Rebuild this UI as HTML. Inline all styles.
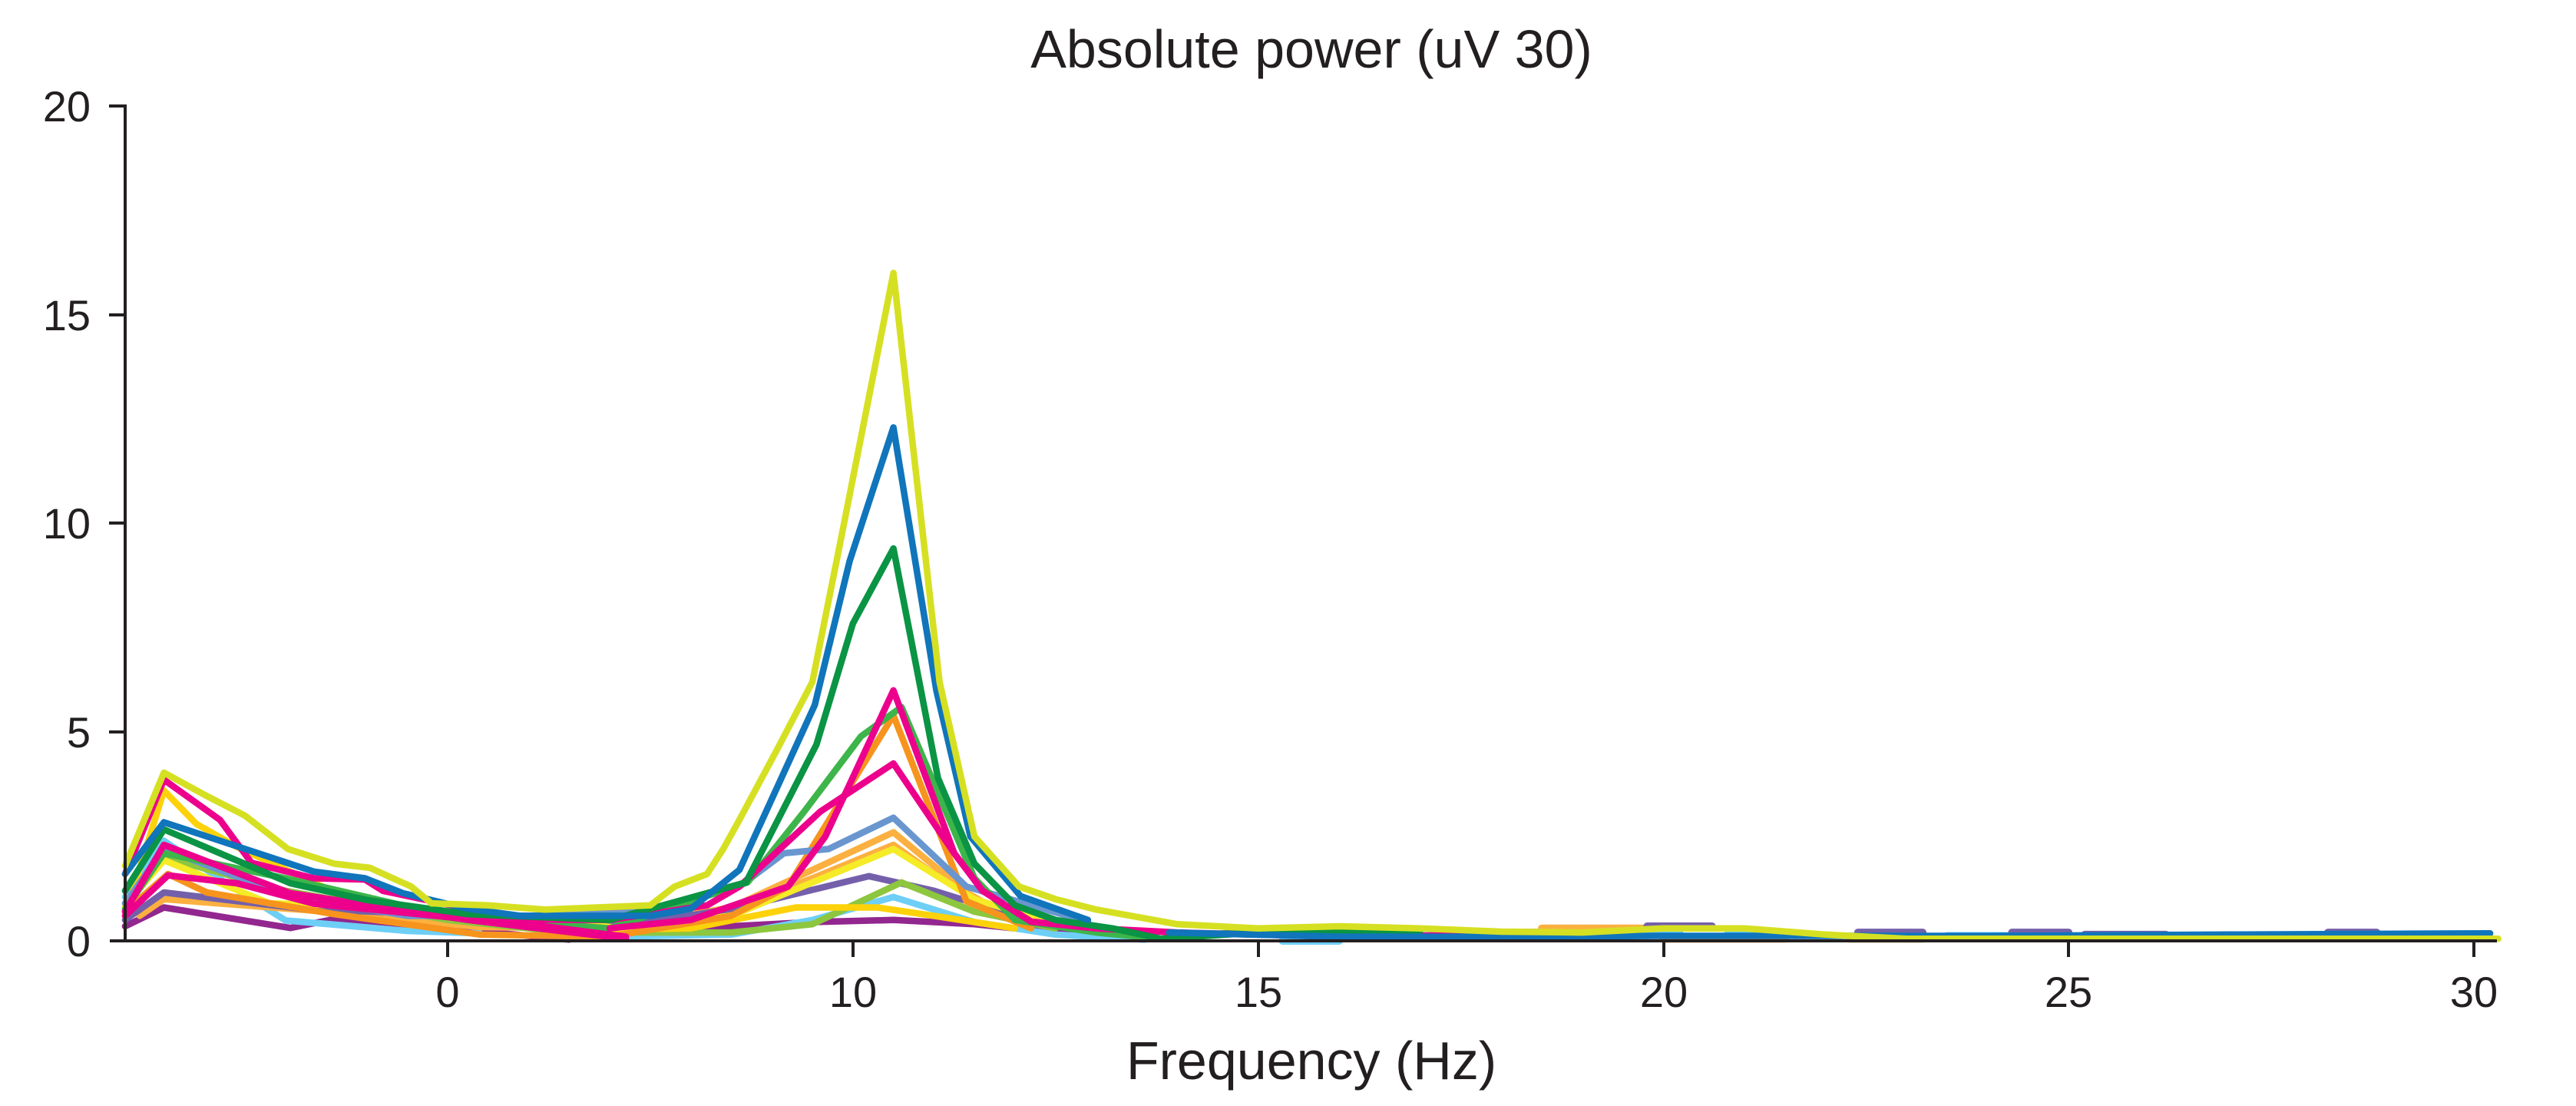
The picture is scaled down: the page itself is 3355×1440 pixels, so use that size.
<!DOCTYPE html>
<html><head><meta charset="utf-8"><style>
html,body{margin:0;padding:0;background:#fff;}
svg{display:block;}
text{font-family:"Liberation Sans",sans-serif;fill:#231f20;}
</style></head><body>
<svg id="s" width="3355" height="1440" viewBox="0 0 3355 1440" xmlns="http://www.w3.org/2000/svg">
<text x="1708" y="88" font-size="70" text-anchor="middle">Absolute power (uV 30)</text>
<g id="lines" fill="none" stroke-width="8.5" stroke-linecap="round" stroke-linejoin="round"></g>
<g stroke="#231f20" stroke-width="4" fill="none">
<line x1="163" y1="136" x2="163" y2="1227"/>
<line x1="143" y1="1225" x2="3252" y2="1225"/>
<line x1="142" y1="138" x2="163" y2="138"/>
<line x1="142" y1="410" x2="163" y2="410"/>
<line x1="142" y1="681" x2="163" y2="681"/>
<line x1="142" y1="953" x2="163" y2="953"/>
<line x1="583" y1="1225" x2="583" y2="1246"/>
<line x1="1111" y1="1225" x2="1111" y2="1246"/>
<line x1="1639" y1="1225" x2="1639" y2="1246"/>
<line x1="2167" y1="1225" x2="2167" y2="1246"/>
<line x1="2694" y1="1225" x2="2694" y2="1246"/>
<line x1="3222" y1="1225" x2="3222" y2="1246"/>
</g>
<g font-size="56" text-anchor="end">
<text x="118" y="158">20</text>
<text x="118" y="430">15</text>
<text x="118" y="701">10</text>
<text x="118" y="973">5</text>
<text x="118" y="1245">0</text>
</g>
<g font-size="56" text-anchor="middle">
<text x="583" y="1311">0</text>
<text x="1111" y="1311">10</text>
<text x="1639" y="1311">15</text>
<text x="2167" y="1311">20</text>
<text x="2694" y="1311">25</text>
<text x="3222" y="1311">30</text>
</g>
<text x="1708" y="1405" font-size="70" text-anchor="middle">Frequency (Hz)</text>
</svg>
<script>
function X(f){return 583+(f-5)*105.56;}
function Y(v){return 1225-54.35*v;}
var S=[
["#92278F",[[1.02,0.35],[1.5,0.8],[3.06,0.31],[3.6,0.52],[5,0.3],[6.5,0.03]]],
["#92278F",[[8,0.3],[9.5,0.45],[10.5,0.5],[11.5,0.4],[12.5,0.2],[13.5,0.15]]],
["#6DCFF6",[[1.02,1.05],[1.5,2.4],[2.27,1.38],[3.0,0.49],[4.5,0.24],[5.4,0.18]]],
["#6DCFF6",[[7,0.1],[8.5,0.15],[9.5,0.5],[10.5,1.05],[11.5,0.45],[12.5,0.15],[13.6,0.03]]],
["#FBB040",[[1.2,0.6],[1.5,1.0],[3.5,0.7],[5.4,0.33],[7,0.3],[8.5,0.8],[10.5,2.6],[11.5,1.0],[12.5,0.4]]],
["#FBB040",[[8,0.4],[9.5,1.5],[10.5,2.3],[11,1.6],[12,0.5],[13,0.3]]],
["#7460AA",[[1.02,0.5],[1.5,1.16],[3.2,0.77],[5.9,0.55],[7.5,0.45],[8.6,0.8],[10.2,1.55],[11,1.2],[12,0.6],[13,0.3]]],
["#8DC63F",[[1.02,0.8],[1.5,2.0],[3,1.2],[5,0.5],[6.5,0.2],[8.5,0.2],[9.5,0.4],[10.6,1.4],[11.5,0.7],[12.5,0.3]]],
["#FDD20A",[[1.02,0.6],[1.5,3.6],[1.9,2.8],[2.4,2.25],[3.9,0.9],[5,0.6],[6.5,0.25],[8,0.3],[9.3,0.8],[10.3,0.8],[11,0.6],[12,0.3]]],
["#F5EB26",[[1.02,0.85],[1.5,1.93],[2.8,0.9],[4.1,0.83],[7.2,0.3],[8.5,0.6],[10.5,2.2],[11.5,1.0],[12.5,0.4],[13,0.35]]],
["#F7941D",[[1.02,0.7],[1.55,1.6],[2.03,1.16],[3.6,0.64],[5.4,0.15],[7,0.1],[8.5,0.6],[9.2,1.3],[10.5,5.4],[11.4,0.95],[12.2,0.3]]],
["#6A96D0",[[1.02,0.9],[1.5,2.2],[3,1.1],[4.5,0.6],[6,0.6],[7.5,0.7],[8.6,1.3],[9.15,2.1],[9.7,2.2],[10.5,2.95],[11.4,1.3],[12.9,0.46]]],
["#3DB54A",[[1.02,0.75],[1.5,2.1],[3,1.5],[5,0.6],[7,0.3],[8.7,1.4],[9.4,3.1],[10.1,4.9],[10.6,5.6],[11.5,1.5],[12,0.5],[13,0.2],[13.8,0.05],[15,0.25],[16,0.3]]],
["#EC008C",[[1.02,0.6],[1.55,1.57],[2.4,1.38],[3.35,0.89],[5.25,0.52],[7,0.5],[8.2,0.85],[8.6,1.3],[9.6,3.1],[10.5,4.25],[11.25,2.1],[11.6,1.2],[12.2,0.46],[13,0.3]]],
["#EC008C",[[1.02,0.7],[1.5,2.3],[3.06,1.14],[5.25,0.5],[7.2,0.05]]],
["#EC008C",[[7,0.3],[8,0.5],[9.2,1.3],[9.66,2.5],[10.5,6.0],[11.25,2.1],[11.6,1.2],[12.2,0.46],[13,0.3],[14,0.2],[16,0.1],[18,0.15],[19,0.15]]],
["#EC008C",[[1.02,1.6],[1.5,3.86],[2.19,2.9],[2.58,1.87],[3.35,1.5],[3.98,1.47],[4.2,1.2],[5.25,0.77],[6,0.4],[7.2,0.1]]],
["#0A9444",[[1.02,1.2],[1.5,2.67],[3.06,1.38],[4,0.98],[5.25,0.64],[7,0.5],[8.68,1.4],[9.55,4.7],[10,7.6],[10.5,9.4],[11.05,3.9],[11.5,1.85],[12,0.85],[12.5,0.5],[13.2,0.3],[13.8,0.05],[15,0.2],[17,0.25]]],
["#1075BB",[[1.02,1.6],[1.5,2.84],[3.35,1.66],[3.98,1.5],[4.45,1.14],[5.25,0.77],[5.9,0.6],[7.5,0.6],[8,0.77],[8.6,1.7],[9.53,5.65],[9.96,9.1],[10.5,12.3],[11.03,6.0],[11.45,2.5],[12.07,1.07],[12.9,0.5]]],
["#1075BB",[[13.9,0.2],[16,0.1],[18,0.1],[20,0.12],[24,0.12],[27,0.15],[30.2,0.18]]],
["#D6E022",[[1.02,1.8],[1.5,4.03],[2,3.5],[2.5,3.0],[3.03,2.2],[3.6,1.85],[4.04,1.75],[4.55,1.3],[4.8,0.9],[5.5,0.85],[6.2,0.75],[7.5,0.85],[7.8,1.3],[8.2,1.6],[8.4,2.2],[8.6,2.9],[9.07,4.6],[9.5,6.2],[9.84,9.5],[10.5,16.0],[11.07,6.2],[11.5,2.5],[12.05,1.3],[12.5,1.0],[13,0.75],[14,0.4],[15,0.3],[16,0.35],[17,0.3],[18,0.22],[19,0.2],[20,0.3],[21,0.3],[22,0.15],[23,0.05],[30.3,0.05]]]
];
var segs=[
["#7460AA",15.7,16.5,0.3],["#6DCFF6",15.3,16.0,0.0],["#6DCFF6",16.8,17.6,0.12],["#F7941D",17.5,18.5,0.1],
["#7460AA",18.0,18.8,0.2],["#FBB040",18.5,19.9,0.3],["#7460AA",19.8,20.6,0.35],["#6DCFF6",19.3,20.2,0.2],
["#6DCFF6",20.8,21.5,0.2],["#F7941D",20.0,21.5,0.05],["#7460AA",22.4,23.2,0.2],["#F7941D",22.3,23.2,0.05],
["#6DCFF6",23.5,24.5,0.12],["#7460AA",24.3,25.0,0.2],["#7460AA",25.2,26.2,0.15],["#F7941D",26,27.5,0.1],
["#EC008C",27.5,29,0.12],["#7460AA",28.2,28.8,0.2],["#EC008C",24,26,0.1]
];
var g=document.getElementById("lines"),ns="http://www.w3.org/2000/svg";
segs.forEach(function(s){var l=document.createElementNS(ns,"line");l.setAttribute("x1",X(s[1]));l.setAttribute("x2",X(s[2]));l.setAttribute("y1",Y(s[3]));l.setAttribute("y2",Y(s[3]));l.setAttribute("stroke",s[0]);l.setAttribute("stroke-width","10");g.appendChild(l);});
S.forEach(function(s){var p=document.createElementNS(ns,"polyline");p.setAttribute("points",s[1].map(function(q){return X(q[0]).toFixed(1)+","+Y(q[1]).toFixed(1);}).join(" "));p.setAttribute("stroke",s[0]);g.appendChild(p);});
</script>
</body></html>
